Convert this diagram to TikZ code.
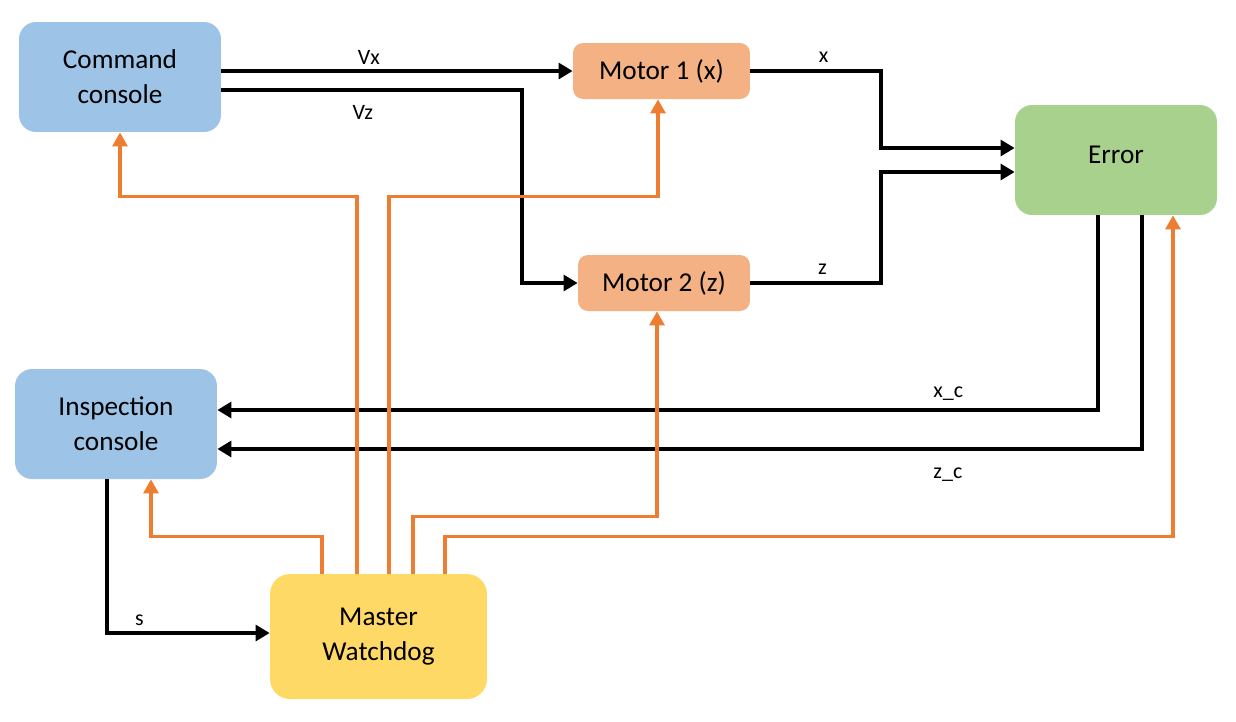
\documentclass[tikz,border=0pt]{standalone}
\usepackage{fontspec}
\setmainfont{Carlito}
\usetikzlibrary{arrows.meta, positioning}
\definecolor{consoleblue}{RGB}{157, 195, 230}
\definecolor{motororange}{RGB}{244, 177, 131}
\definecolor{errorgreen}{RGB}{169, 209, 142}
\definecolor{dogyellow}{RGB}{255, 217, 102}
\definecolor{wireorange}{RGB}{237, 125, 49}

\tikzset{
  blockbox/.style={rounded corners=0.34cm, inner sep=0pt, align=center,
    font=\fontsize{15.5}{20}\selectfont},
  sigline/.style={line width=2.2pt, -{Triangle[length=8pt, width=9pt]}},
  dogline/.style={line width=1.9pt, wireorange, -{Triangle[length=8pt, width=8.5pt]}},
  siglabel/.style={font=\fontsize{12.5}{14}\selectfont}
}

\begin{document}
\begin{tikzpicture}[x=0.02cm, y=-0.02cm]
  \useasboundingbox (0,0) rectangle (1236,721);

  \node[blockbox, fill=consoleblue, minimum width=4.04cm, minimum height=2.2cm] (cmd) at (120,77) {Command\\console};
  \node[blockbox, fill=motororange, rounded corners=0.2cm, minimum width=3.54cm, minimum height=1.12cm] (m1) at (661.5,71) {Motor 1 (x)};
  \node[blockbox, fill=motororange, rounded corners=0.2cm, minimum width=3.44cm, minimum height=1.12cm] (m2) at (664,283) {Motor 2 (z)};
  \node[blockbox, fill=errorgreen, minimum width=4.04cm, minimum height=2.2cm, text depth=0.2cm] (err) at (1116,160) {Error};
  \node[blockbox, fill=consoleblue, minimum width=4.04cm, minimum height=2.2cm] (insp) at (116,424) {Inspection\\console};
  \node[blockbox, fill=dogyellow, rounded corners=0.4cm, minimum width=4.34cm, minimum height=2.5cm] (md) at (378.5,636.5) {Master\\Watchdog};

  % black signals
  \draw[sigline] (cmd.east |- m1.west) -- node[siglabel, pos=0.42, yshift=0.28cm] {Vx} (m1.west);
  \draw[sigline] ([yshift=-0.26cm]cmd.east) -- node[siglabel, pos=0.47, yshift=-0.44cm] {Vz} ++(301,0) |- (m2.west);
  \draw[sigline] (m1.east) -- node[siglabel, pos=0.56, yshift=0.28cm] {x} ++(131,0) |- ([yshift=0.24cm]err.west);
  \draw[sigline] (m2.east) -- node[siglabel, pos=0.55, yshift=0.28cm] {z} ++(131,0) |- ([yshift=-0.24cm]err.west);
  \draw[sigline] ([xshift=-0.36cm]err.south) |- node[siglabel, pos=0.585, yshift=0.32cm] {x\_c} ([yshift=0.28cm]insp.east);
  \draw[sigline] ([xshift=0.52cm]err.south) |- node[siglabel, pos=0.605, yshift=-0.52cm] {z\_c} ([yshift=-0.5cm]insp.east);
  \draw[sigline] ([xshift=-0.18cm]insp.south) |- node[siglabel, pos=0.6, yshift=0.26cm] {s} ([yshift=0.07cm]md.west);

  % watchdog lines
  \draw[dogline] ([xshift=-1.13cm]md.north) -- ++(0,-37) -| ([xshift=0.7cm]insp.south);
  \draw[dogline] ([xshift=-0.43cm]md.north) -- ++(0,-377) -| (cmd.south);
  \draw[dogline] ([xshift=0.21cm]md.north) -- ++(0,-377) -| ([xshift=-0.07cm]m1.south);
  \draw[dogline] ([xshift=0.69cm]md.north) -- ++(0,-57) -| ([xshift=-0.14cm]m2.south);
  \draw[dogline] ([xshift=1.33cm]md.north) -- ++(0,-37) -| ([xshift=1.14cm]err.south);
\end{tikzpicture}
\end{document}
